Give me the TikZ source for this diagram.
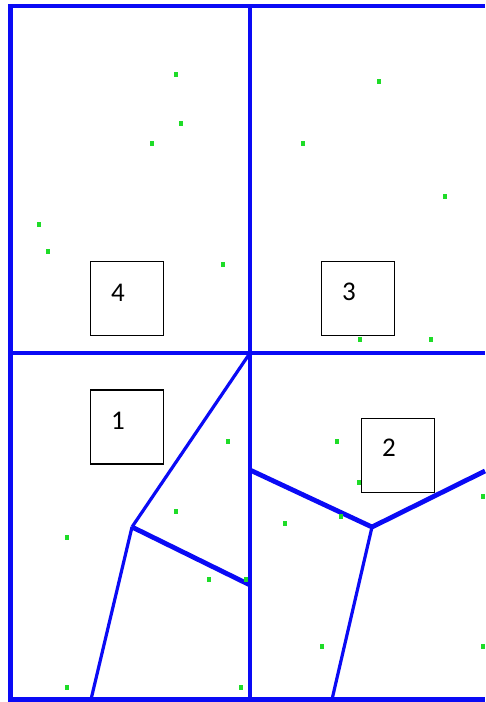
\documentclass[tikz,border=0pt]{standalone}
\usepackage{fontspec}
\setmainfont{Carlito}
\begin{document}
\begin{tikzpicture}[x=1pt,y=-1pt,
  outer/.style={draw={rgb,255:red,10;green,10;blue,245},line width=4.5pt},
  inner/.style={draw={rgb,255:red,10;green,10;blue,245},line width=3.5pt},
  vor/.style={draw={rgb,255:red,10;green,10;blue,245},line width=3.2pt},
  vorthick/.style={draw={rgb,255:red,10;green,10;blue,245},line width=4.8pt},
  lbl/.style={draw=black,line width=1.3pt,minimum width=73pt,minimum height=74pt,inner sep=0pt},
  num/.style={font=\fontsize{27}{27}\selectfont,inner sep=0pt},
  pt/.style={fill={rgb,255:red,30;green,220;blue,40},minimum width=4pt,minimum height=5pt,inner sep=0pt}]
\useasboundingbox (0,0) rectangle (485,702);
\fill[white] (0,0) rectangle (485,702);
% coordinates
\coordinate (TL) at (10.5,6);
\coordinate (TR) at (485,6);
\coordinate (BL) at (10.5,699.5);
\coordinate (BR) at (485,699.5);
\coordinate (MT) at (250,6);
\coordinate (MB) at (250,699.5);
\coordinate (ML) at (10.5,353);
\coordinate (MR) at (485,353);
\coordinate (C) at (250,353);
\coordinate (V1) at (132,527);
\coordinate (E1) at (250,585);
\coordinate (F1) at (91,699.5);
\coordinate (V2) at (372,527);
\coordinate (E2) at (250,470);
\coordinate (R2) at (485,471);
\coordinate (F2) at (332,699.5);
% Voronoi lines
\draw[vor] (C) -- (V1);
\draw[vorthick] (V1) -- (E1);
\draw[vor] (V1) -- (F1);
\draw[vorthick] (E2) -- (V2);
\draw[vorthick] (V2) -- (R2);
\draw[vor] (V2) -- (F2);
% frame
\draw[inner] (MT) -- (MB);
\draw[inner] (ML) -- (MR);
\draw[outer] (TR) -- (TL) -- (BL) -- (BR);
% green points
\foreach \x/\y in {176/74,181/123,152/143,39/224,48/251,223/264,
  379/81,303/143,445/196,360/339,431/339,
  228/441,176/511,67/537,209/579,246/579,67/687,241/687,
  337/441,359/482,285/523,341/516,483/496,322/646,483/646}
  \node[pt] at (\x,\y) {};
% label boxes
\node[lbl] (b4) at (127,298.5) {};
\node[num] (n4) at (118,293) {4};
\node[lbl] (b3) at (358,298.5) {};
\node[num] (n3) at (349,292) {3};
\node[lbl] (b1) at (127,427) {};
\node[num] (n1) at (118,421) {1};
\node[lbl] (b2) at (398,455.5) {};
\node[num] (n2) at (389,448) {2};
\end{tikzpicture}
\end{document}
